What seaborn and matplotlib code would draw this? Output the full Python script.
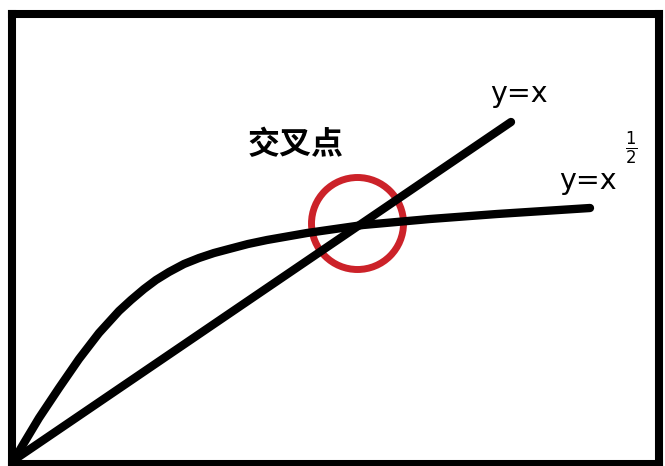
import matplotlib
matplotlib.use("Agg")
import matplotlib.pyplot as plt
import seaborn as sns
from matplotlib.patches import Circle

# curve y = x^(1/2) (origin at the frame's lower-left corner)
curve_x = [0, 10, 25, 45, 65, 85, 105, 117, 130, 142, 155, 170, 185, 200, 215, 234, 253, 293, 349, 416, 483, 576]
curve_y = [0, 17, 42, 72, 101, 127, 149, 160, 171, 180, 188, 196, 202, 207, 211, 216, 220, 227, 235, 241, 246, 252]

# straight line y = x
line_x = [0, 497]
line_y = [0, 338]

# crossing point marker
cross_x = 343.5
cross_y = 236.5
cross_r = 46

label_cross = "交叉点"
label_line = "y=x"
label_curve = "y=x"
label_power = r"$\frac{1}{2}$"

sns.set_style("white")
plt.rcParams["font.family"] = ["DejaVu Sans", "Noto Sans CJK SC"]
plt.rcParams["mathtext.fontset"] = "dejavusans"

fig = plt.figure(figsize=(6.65, 4.66), dpi=100)
ax = fig.add_axes([12 / 665, 2 / 466, 647 / 665, 450 / 466])

sns.lineplot(x=curve_x, y=curve_y, sort=False, color="black", linewidth=6, ax=ax,
             solid_capstyle="round", solid_joinstyle="round")
sns.lineplot(x=line_x, y=line_y, sort=False, color="black", linewidth=6, ax=ax,
             solid_capstyle="round")

ax.add_patch(Circle((cross_x, cross_y), cross_r, fill=False, edgecolor="#cc2229", linewidth=5))

ax.text(282, 315, label_cross, fontsize=23, fontweight="bold", ha="center", va="center",
        color="black", family=["Noto Sans CJK SC", "DejaVu Sans"])
ax.text(505, 366, label_line, fontsize=20.5, ha="center", va="center", color="black")
ax.text(574, 279, label_curve, fontsize=20.5, ha="center", va="center", color="black")
ax.text(617, 312, label_power, fontsize=17, ha="center", va="center", color="black")

ax.set_xlim(-2, 645)
ax.set_ylim(-4, 446)
ax.set_xticks([])
ax.set_yticks([])
for s in ax.spines.values():
    s.set_visible(True)
    s.set_color("black")
    s.set_linewidth(5.8)

fig.savefig("out.png", dpi=100)
